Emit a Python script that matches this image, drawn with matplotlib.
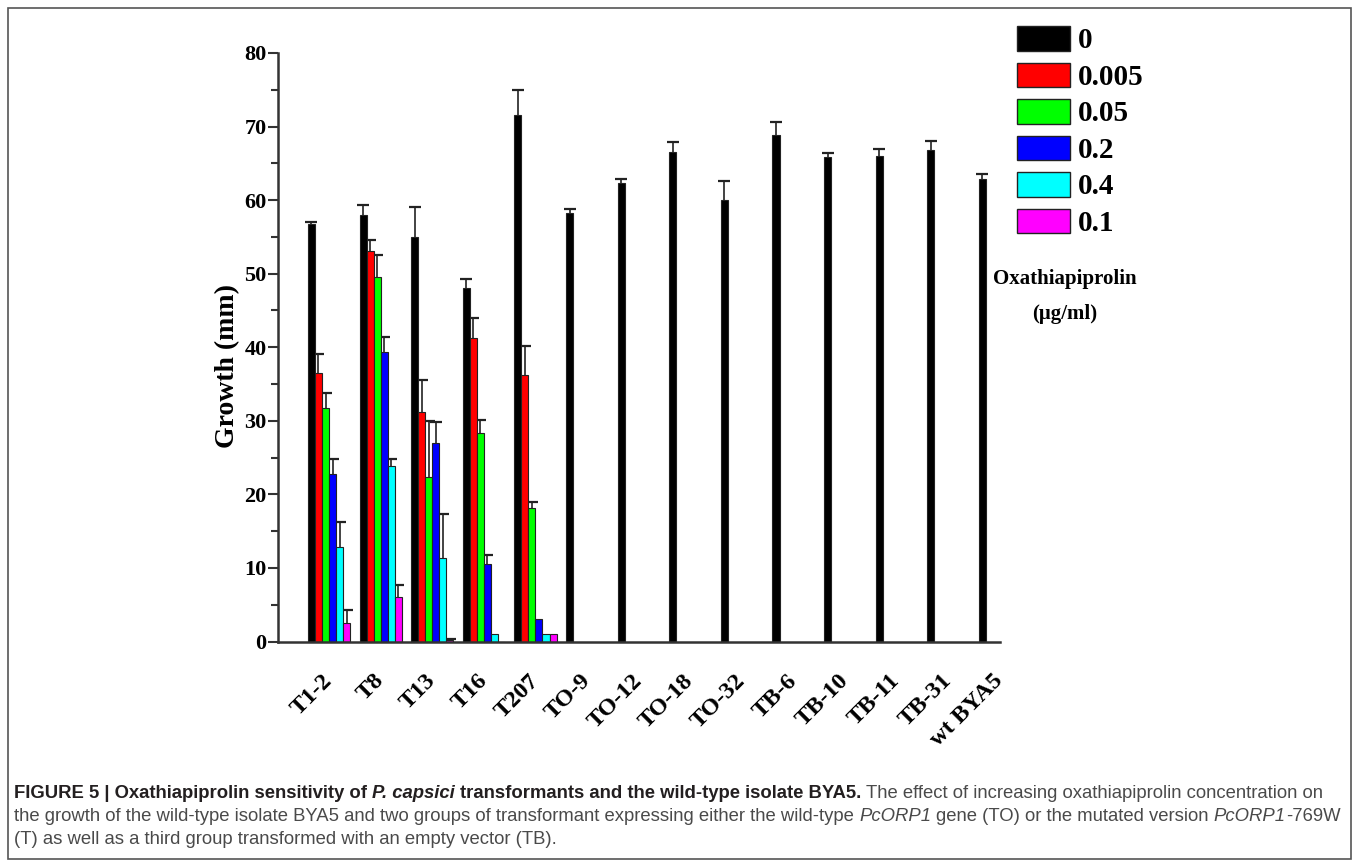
import numpy as np
import matplotlib
matplotlib.use("Agg")
import matplotlib.pyplot as plt
from matplotlib.patches import Patch, Rectangle
from matplotlib import font_manager

# ---- data -------------------------------------------------------------
strains = ["T1-2", "T8", "T13", "T16", "T207", "TO-9", "TO-12", "TO-18",
           "TO-32", "TB-6", "TB-10", "TB-11", "TB-31", "wt BYA5"]
concentrations = ["0", "0.005", "0.05", "0.2", "0.4", "0.1"]
bar_colors = ["#000000", "#ff0000", "#00ff00", "#0000ff", "#00ffff", "#ff00ff"]

# growth without fungicide (all strains)
growth_c0 = [56.8, 58.0, 55.0, 48.0, 71.6, 58.2, 62.3, 66.5, 60.0, 68.9, 65.8, 66.0, 66.8, 62.9]
err_c0 = [0.2, 1.3, 4.1, 1.3, 3.4, 0.6, 0.6, 1.4, 2.6, 1.7, 0.6, 1.0, 1.2, 0.6]

# growth of the T transformants at increasing concentrations
growth_c0005 = [36.5, 53.1, 31.2, 41.3, 36.2]
err_c0005 = [2.6, 1.5, 4.3, 2.7, 4.0]
growth_c005 = [31.8, 49.5, 22.3, 28.4, 18.2]
err_c005 = [2.0, 3.0, 7.7, 1.7, 0.7]
growth_c02 = [22.8, 39.4, 27.0, 10.5, 3.0]
err_c02 = [2.0, 2.0, 2.9, 1.3, 0.0]
growth_c04 = [12.8, 23.8, 11.3, 1.0, 1.0]
err_c04 = [3.5, 1.0, 6.0, 0.0, 0.0]
growth_c01 = [2.5, 6.1, 0.2, 0.0, 1.0]
err_c01 = [1.8, 1.6, 0.2, 0.0, 0.0]

series = [(growth_c0, err_c0), (growth_c0005, err_c0005), (growth_c005, err_c005),
          (growth_c02, err_c02), (growth_c04, err_c04), (growth_c01, err_c01)]

# ---- figure -----------------------------------------------------------
W, H, DPI = 1358, 868, 100
fig = plt.figure(figsize=(W / DPI, H / DPI), dpi=DPI)
serif = "Liberation Serif"

# outer frame
fig.patches.append(Rectangle((8 / W, 9 / H), (1351 - 8) / W, (860 - 9) / H,
                             transform=fig.transFigure, fill=False,
                             edgecolor="#555555", linewidth=1.2))

ax = fig.add_axes([277.5 / W, (H - 641.5) / H, (1000 - 277.5) / W, (641.5 - 53) / H])

bw = 0.136
for j, (vals, errs) in enumerate(series):
    x = np.arange(len(vals)) + j * bw
    ax.bar(x, vals, width=bw, align="edge", color=bar_colors[j],
           edgecolor="#222222", linewidth=0.8, zorder=2)
    xc = x + bw / 2
    top = np.array(vals) + np.array(errs)
    mask = np.array(errs) > 0
    ax.vlines(xc[mask], np.array(vals)[mask], top[mask], color="#222222",
              linewidth=1.2, zorder=1)
    ax.plot(xc[mask], top[mask], linestyle="none", marker="_", markersize=8,
            markeredgewidth=1.6, color="#222222", zorder=1)

ax.set_xlim(-0.59, len(strains) - 1 + bw + 0.25)
ax.set_ylim(0, 80)

for s in ["top", "right"]:
    ax.spines[s].set_visible(False)
for s in ["left", "bottom"]:
    ax.spines[s].set_linewidth(1.8)
    ax.spines[s].set_color("#333333")

ax.set_yticks(np.arange(0, 81, 10))
ax.set_yticks(np.arange(5, 80, 10), minor=True)
ax.tick_params(axis="y", which="major", length=7, width=1.5, color="#333333",
               labelsize=16, pad=1)
ax.tick_params(axis="y", which="minor", length=5, width=1.5, color="#333333")
for lab in ax.get_yticklabels():
    lab.set_fontfamily(serif)
    lab.set_fontweight("bold")

centers = np.arange(len(strains)) + 3 * bw
ax.set_xticks(centers)
ax.set_xticklabels(strains, rotation=45, ha="right", va="center",
                   rotation_mode="anchor", fontsize=17.5, fontfamily=serif,
                   fontweight="bold")
ax.tick_params(axis="x", length=0, pad=26)

ax.set_ylabel("Growth (mm)", fontsize=20, fontfamily=serif, fontweight="bold")
ax.yaxis.set_label_coords((228 - 277.5) / (1000 - 277.5), (641.5 - 366) / (641.5 - 53))
ax.yaxis.label.set_va("center")

# legend
handles = [Patch(facecolor=c, edgecolor="#222222", linewidth=1.0) for c in bar_colors]
fig.legend(handles, concentrations, loc="upper left",
           bbox_to_anchor=(1017 / W, (H - 26) / H), frameon=False,
           prop={"family": serif, "weight": "bold", "size": 21},
           handlelength=1.8, handleheight=0.92, handletextpad=0.3,
           labelspacing=0.28, borderpad=0, borderaxespad=0)

fig.text(1065 / W, (H - 279) / H, "Oxathiapiprolin", ha="center", va="center",
         fontsize=15, fontfamily=serif, fontweight="bold")
fig.text(1065 / W, (H - 314) / H, "(μg/ml)", ha="center", va="center",
         fontsize=15, fontfamily=serif, fontweight="bold")

# ---- caption ----------------------------------------------------------
available = {f.name for f in font_manager.fontManager.ttflist}
cap_family = "Liberation Sans Narrow" if "Liberation Sans Narrow" in available else "Liberation Sans"
cap_size = 13.3 if cap_family == "Liberation Sans" else 15.5
dark, grey = "#231f20", "#4a4a4a"

renderer = fig.canvas.get_renderer()


def text_width(s, **kw):
    t = fig.text(0, 0, s, fontsize=cap_size, family=cap_family, **kw)
    w = t.get_window_extent(renderer).width
    t.remove()
    return w


def draw_runs(x, y, runs):
    for s, style in runs:
        kw = {}
        if "b" in style:
            kw["fontweight"] = "bold"
        if "i" in style:
            kw["fontstyle"] = "italic"
        color = dark if "b" in style else grey
        lead = len(s) - len(s.lstrip(" "))
        body = s.strip(" ")
        trail = len(s) - len(s.rstrip(" "))
        sp = text_width("x x", **kw) - text_width("xx", **kw)
        x += lead * sp
        t = fig.text(x / W, y / H, body, fontsize=cap_size, family=cap_family,
                     color=color, va="baseline", ha="left", **kw)
        x += t.get_window_extent(renderer).width + trail * sp


draw_runs(14, H - 798, [
    ("FIGURE 5 | Oxathiapiprolin sensitivity of ", "b"),
    ("P. capsici", "bi"),
    (" transformants and the wild-type isolate BYA5.", "b"),
    (" The effect of increasing oxathiapiprolin concentration on", ""),
])
draw_runs(14, H - 821, [
    ("the growth of the wild-type isolate BYA5 and two groups of transformant expressing either the wild-type ", ""),
    ("PcORP1", "i"),
    (" gene (TO) or the mutated version ", ""),
    ("PcORP1", "i"),
    ("-769W", ""),
])
draw_runs(14, H - 844, [
    ("(T) as well as a third group transformed with an empty vector (TB).", ""),
])

fig.savefig("out.png", dpi=DPI)
